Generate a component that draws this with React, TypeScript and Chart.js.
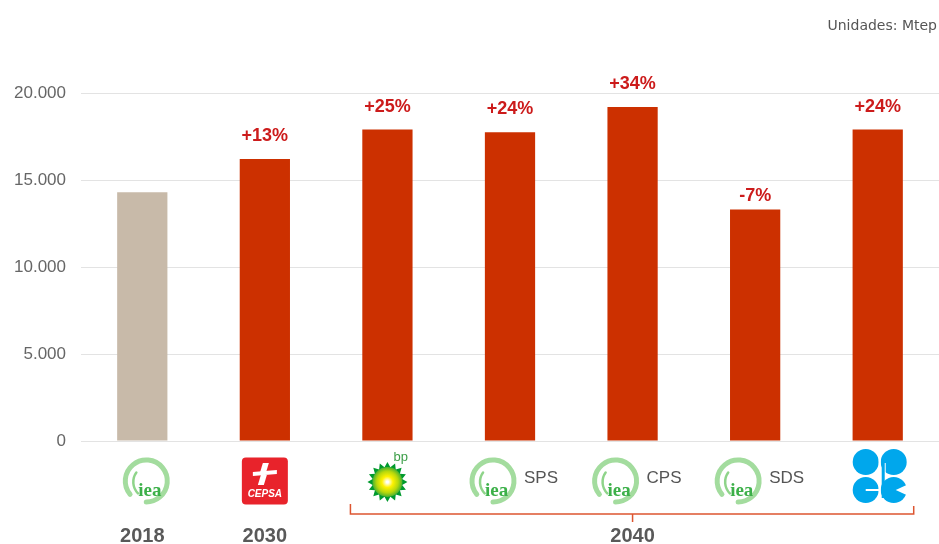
import React, { useEffect, useRef } from "react";
import { Chart, registerables } from "chart.js";

Chart.register(...registerables);

// ---- data ----
const categories = ["IEA 2018", "Cepsa 2030", "BP 2040", "IEA SPS 2040", "IEA CPS 2040", "IEA SDS 2040", "OPEC 2040"];
const logos = ["iea", "cepsa", "bp", "iea", "iea", "iea", "opec"];
const logoCaptions = ["", "", "", "SPS", "CPS", "SDS", ""];
const values = [14300, 16200, 17900, 17750, 19200, 13300, 17900];
const changeLabels = ["", "+13%", "+25%", "+24%", "+34%", "-7%", "+24%"];
const barColors = ["#c8baa9", "#cc3000", "#cc3000", "#cc3000", "#cc3000", "#cc3000", "#cc3000"];
const yTicks = [0, 5000, 10000, 15000, 20000];
const yearLabels = ["2018", "2030", "2040"];
const yearFirst = [0, 1, 2];
const yearLast = [0, 1, 6];
const yearCenter = [0, 1, 4];
const unitsLabel = "Unidades: Mtep";

const FONT = "'Liberation Sans', Arial, sans-serif";

function fmt(v: number) {
  return String(v).replace(/\B(?=(\d{3})+(?!\d))/g, ".");
}

function drawIea(ctx: CanvasRenderingContext2D, cx: number, cy: number) {
  ctx.save();
  ctx.lineCap = "round";
  ctx.strokeStyle = "#a3dc9e";
  ctx.lineWidth = 5;
  ctx.beginPath();
  ctx.arc(cx, cy, 21, 0.78 * Math.PI, 2.5 * Math.PI);
  ctx.stroke();
  ctx.strokeStyle = "#8fd48a";
  ctx.lineWidth = 2.5;
  ctx.beginPath();
  ctx.arc(cx + 3, cy + 1, 16, 0.75 * Math.PI, 1.2 * Math.PI);
  ctx.stroke();
  ctx.fillStyle = "#3cb049";
  ctx.font = "bold 19px 'Liberation Serif', 'Times New Roman', serif";
  ctx.textAlign = "left";
  ctx.textBaseline = "alphabetic";
  ctx.fillText("iea", cx - 8, cy + 15);
  ctx.restore();
}

function drawCepsa(ctx: CanvasRenderingContext2D, cx: number, cy: number) {
  ctx.save();
  const w = 46, h = 47, r = 4;
  const x0 = cx - w / 2, y0 = cy - h / 2;
  ctx.fillStyle = "#e8232b";
  ctx.beginPath();
  ctx.moveTo(x0 + r, y0);
  ctx.lineTo(x0 + w - r, y0);
  ctx.quadraticCurveTo(x0 + w, y0, x0 + w, y0 + r);
  ctx.lineTo(x0 + w, y0 + h - r);
  ctx.quadraticCurveTo(x0 + w, y0 + h, x0 + w - r, y0 + h);
  ctx.lineTo(x0 + r, y0 + h);
  ctx.quadraticCurveTo(x0, y0 + h, x0, y0 + h - r);
  ctx.lineTo(x0, y0 + r);
  ctx.quadraticCurveTo(x0, y0, x0 + r, y0);
  ctx.closePath();
  ctx.fill();
  // symbol
  ctx.fillStyle = "#ffffff";
  const sy = cy - 7;
  ctx.beginPath();
  ctx.moveTo(cx - 12, sy - 2);
  ctx.lineTo(cx + 12, sy - 4);
  ctx.lineTo(cx + 12, sy);
  ctx.lineTo(cx - 12, sy + 2);
  ctx.closePath();
  ctx.fill();
  ctx.beginPath();
  ctx.moveTo(cx - 2, sy - 11);
  ctx.lineTo(cx + 4, sy - 11);
  ctx.lineTo(cx + 1, sy - 1);
  ctx.lineTo(cx - 5, sy - 1);
  ctx.closePath();
  ctx.fill();
  ctx.beginPath();
  ctx.moveTo(cx - 4, sy + 1);
  ctx.lineTo(cx + 2, sy + 1);
  ctx.lineTo(cx - 1, sy + 11);
  ctx.lineTo(cx - 7, sy + 11);
  ctx.closePath();
  ctx.fill();
  ctx.font = "italic bold 10px " + FONT;
  ctx.textAlign = "center";
  ctx.textBaseline = "alphabetic";
  ctx.fillText("CEPSA", cx, cy + 16);
  ctx.restore();
}

function drawBp(ctx: CanvasRenderingContext2D, cx: number, cy: number) {
  ctx.save();
  const n = 16;
  ctx.fillStyle = "#009a2e";
  ctx.beginPath();
  for (let i = 0; i < n * 2; i++) {
    const a = (i / (n * 2)) * Math.PI * 2;
    const rr = i % 2 === 0 ? 20 : 15;
    const px = cx + Math.cos(a) * rr;
    const py = cy + Math.sin(a) * rr;
    if (i === 0) ctx.moveTo(px, py);
    else ctx.lineTo(px, py);
  }
  ctx.closePath();
  ctx.fill();
  const g = ctx.createRadialGradient(cx, cy, 1, cx, cy, 16);
  g.addColorStop(0, "#ffffff");
  g.addColorStop(0.3, "#fff200");
  g.addColorStop(0.65, "#b6d80c");
  g.addColorStop(1, "#2fa83a");
  ctx.fillStyle = g;
  ctx.beginPath();
  ctx.arc(cx, cy, 15, 0, Math.PI * 2);
  ctx.fill();
  ctx.fillStyle = "#3c9e48";
  ctx.font = "13px " + FONT;
  ctx.textAlign = "left";
  ctx.textBaseline = "alphabetic";
  ctx.fillText("bp", cx + 6, cy - 21);
  ctx.restore();
}

function drawOpec(ctx: CanvasRenderingContext2D, cx: number, cy: number) {
  ctx.save();
  const blue = "#00a7ec";
  const r = 13;
  const lx = cx - 14, rx = cx + 14, ty = cy - 14, by = cy + 14;
  ctx.fillStyle = blue;
  ctx.beginPath(); ctx.arc(lx, ty, r, 0, Math.PI * 2); ctx.fill();
  ctx.beginPath(); ctx.arc(rx, ty, r, 0, Math.PI * 2); ctx.fill();
  ctx.beginPath(); ctx.arc(lx, by, r, 0, Math.PI * 2); ctx.fill();
  ctx.beginPath(); ctx.arc(rx, by, r, 0, Math.PI * 2); ctx.fill();
  ctx.fillStyle = "#ffffff";
  ctx.fillRect(cx - 1, cy - 30, 2, 60);
  ctx.fillRect(lx - r, cy - 1, 2 * r + 4, 2);
  ctx.fillRect(lx, by - 1, r + 1, 2);
  ctx.beginPath();
  ctx.moveTo(rx + 2, by);
  ctx.lineTo(rx + r + 2, by - 6);
  ctx.lineTo(rx + r + 2, by + 6);
  ctx.closePath();
  ctx.fill();
  ctx.fillRect(rx - r + 3, ty + 1, 2, r + 1);
  ctx.fillStyle = blue;
  ctx.fillRect(rx - r + 1, ty, 3, by - ty + 8);
  ctx.restore();
}

const overlayPlugin = {
  id: "overlay",
  afterDraw(chart: any) {
    const ctx: CanvasRenderingContext2D = chart.ctx;
    const xs = chart.scales.x;
    const ys = chart.scales.y;
    ctx.save();
    ctx.fillStyle = "#555555";
    ctx.font = "14px 'DejaVu Sans', " + FONT;
    ctx.textAlign = "right";
    ctx.textBaseline = "middle";
    ctx.fillText(unitsLabel, 937, 26);

    ctx.fillStyle = "#cc1b1b";
    ctx.font = "bold 18px " + FONT;
    ctx.textAlign = "center";
    ctx.textBaseline = "alphabetic";
    changeLabels.forEach((t, i) => {
      if (!t) return;
      const off = t.startsWith("-") ? 9 : 18;
      ctx.fillText(t, xs.getPixelForValue(i), ys.getPixelForValue(values[i]) - off);
    });

    const logoY = 481;
    logos.forEach((l, i) => {
      const bx = xs.getPixelForValue(i);
      const cap = logoCaptions[i];
      if (l === "iea") {
        const lx = cap ? bx - 17 : bx + 4;
        drawIea(ctx, lx, logoY);
        if (cap) {
          ctx.fillStyle = "#555555";
          ctx.font = "17px " + FONT;
          ctx.textAlign = "left";
          ctx.textBaseline = "middle";
          ctx.fillText(cap, lx + 31, logoY - 3);
        }
      } else if (l === "cepsa") {
        drawCepsa(ctx, bx, logoY);
      } else if (l === "bp") {
        drawBp(ctx, bx, logoY + 1);
      } else if (l === "opec") {
        drawOpec(ctx, bx + 2, logoY - 5);
      }
    });

    yearLabels.forEach((yl, k) => {
      const a = yearFirst[k], b = yearLast[k];
      const c = xs.getPixelForValue(yearCenter[k]);
      if (a !== b) {
        const x1 = xs.getPixelForValue(a) - 37;
        const x2 = xs.getPixelForValue(b) + 36;
        ctx.strokeStyle = "#dd5530";
        ctx.lineWidth = 1.5;
        ctx.beginPath();
        ctx.moveTo(x1, 504);
        ctx.lineTo(x1, 514);
        ctx.lineTo(x2, 514);
        ctx.lineTo(x2, 506);
        ctx.moveTo(c, 514);
        ctx.lineTo(c, 522);
        ctx.stroke();
      }
      ctx.fillStyle = "#595959";
      ctx.font = "bold 20px " + FONT;
      ctx.textAlign = "center";
      ctx.textBaseline = "alphabetic";
      ctx.fillText(yl, c, 542);
    });
    ctx.restore();
  },
};

export default function App() {
  const ref = useRef<HTMLCanvasElement | null>(null);
  useEffect(() => {
    document.body.style.margin = "0";
    const canvas = ref.current;
    if (!canvas) return;
    const chart = new Chart(canvas, {
      type: "bar",
      data: {
        labels: categories,
        datasets: [
          {
            data: values,
            backgroundColor: barColors,
            borderWidth: 0,
            barPercentage: 0.41,
            categoryPercentage: 1,
          },
        ],
      },
      options: {
        responsive: false,
        animation: false,
        layout: { padding: { top: 93, bottom: 103, left: 0, right: -4 } },
        plugins: {
          legend: { display: false },
          tooltip: { enabled: false },
          title: { display: false },
        },
        scales: {
          x: {
            display: false,
            grid: { display: false },
          },
          y: {
            min: 0,
            max: 20000,
            afterFit: (s: any) => {
              s.width = 81;
            },
            afterBuildTicks: (s: any) => {
              s.ticks = yTicks.map((v) => ({ value: v }));
            },
            grid: { color: "#e3e3e3", lineWidth: 1, drawTicks: false },
            border: { display: false },
            ticks: {
              padding: 15,
              color: "#666666",
              font: { size: 17, family: FONT },
              callback: (v: any) => fmt(Number(v)),
            },
          },
        },
      },
      plugins: [overlayPlugin],
    });
    return () => chart.destroy();
  }, []);
  return <canvas ref={ref} width={939} height={544} style={{ display: "block" }} />;
}
